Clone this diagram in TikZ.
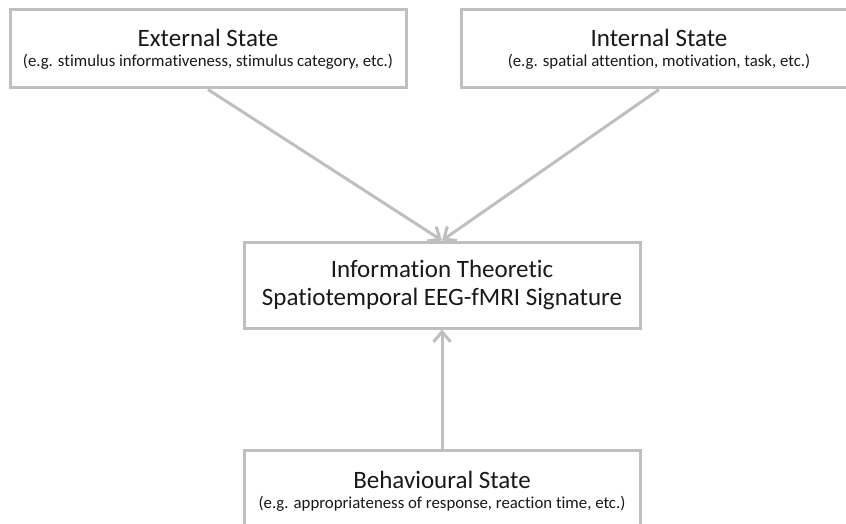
\documentclass[tikz,border=0pt]{standalone}
\usepackage{fontspec}
\setmainfont{Carlito}[Ligatures=NoCommon]
\usetikzlibrary{arrows.meta}
\definecolor{boxgray}{RGB}{191,191,191}
\newcommand{\titlefont}{\fontsize{25}{28}\selectfont}
\newcommand{\notefont}{\fontsize{16.8}{20}\selectfont}
\begin{document}
\begin{tikzpicture}[x=1pt, y=1pt,
    statebox/.style={draw=boxgray, line width=3pt, fill=white, rectangle,
        minimum width=396pt, align=center, inner sep=0pt, text=black!90,
        font=\titlefont},
    infoarrow/.style={draw=boxgray, line width=3pt,
        -{Straight Barb[length=10pt, width=17pt, line width=3pt]}}]
    % Page
    \clip (0,0) rectangle (846,-524);
    % States
    \node[statebox, minimum height=78pt] (external) at (208,-49)
        {External State\\[-8pt] \notefont (e.g. stimulus informativeness, stimulus category, etc.)};
    \node[statebox, minimum height=78pt] (internal) at (659,-49)
        {Internal State\\[-8pt] \notefont (e.g. spatial attention, motivation, task, etc.)};
    \node[statebox, minimum height=86pt] (signature) at (442,-285)
        {Information Theoretic\\ Spatiotemporal EEG-fMRI Signature};
    \node[statebox, minimum height=83pt] (behaviour) at (442,-491.5)
        {Behavioural State\\[-8pt] \notefont (e.g. appropriateness of response, reaction time, etc.)};
    % Links
    \draw[infoarrow] (external.south) -- (signature.north);
    \draw[infoarrow] (internal.south) -- (signature.north);
    \draw[infoarrow] (behaviour.north) -- (signature.south);
\end{tikzpicture}
\end{document}
